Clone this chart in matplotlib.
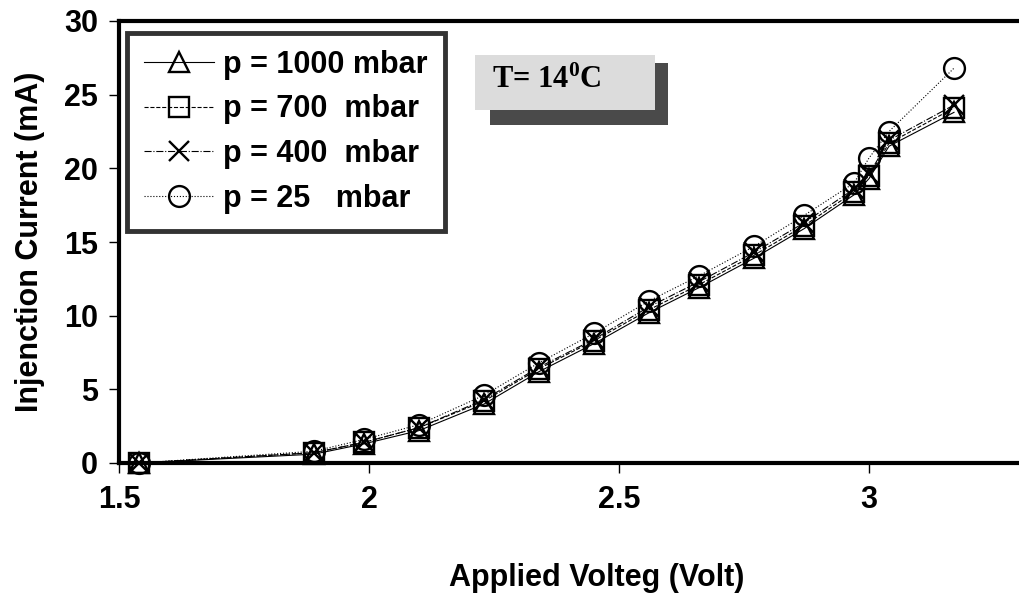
import matplotlib
matplotlib.use("Agg")
import matplotlib.pyplot as plt
from matplotlib.patches import Rectangle

voltage = [1.54, 1.89, 1.99, 2.10, 2.23, 2.34, 2.45, 2.56, 2.66, 2.77, 2.87, 2.97, 3.00, 3.04, 3.17]
i_1000 = [0.0, 0.6, 1.3, 2.2, 4.0, 6.2, 8.1, 10.2, 11.9, 13.9, 15.9, 18.2, 19.3, 21.5, 23.8]
i_700 = [0.0, 0.7, 1.4, 2.4, 4.2, 6.4, 8.3, 10.4, 12.1, 14.1, 16.1, 18.4, 19.5, 21.7, 24.1]
i_400 = [0.0, 0.7, 1.4, 2.4, 4.3, 6.5, 8.4, 10.6, 12.3, 14.3, 16.3, 18.6, 19.6, 21.9, 24.3]
i_25 = [0.0, 0.8, 1.6, 2.6, 4.6, 6.8, 8.8, 11.0, 12.7, 14.7, 16.8, 19.0, 20.7, 22.5, 26.8]

labels = ["p = 1000 mbar", "p = 700  mbar", "p = 400  mbar", "p = 25   mbar"]
xticks = [1.5, 2, 2.5, 3]
xticklabels = ["1.5", "2", "2.5", "3"]
yticks = [0, 5, 10, 15, 20, 25, 30]

plt.rcParams['font.family'] = ['Liberation Sans', 'DejaVu Sans']
plt.rcParams['font.weight'] = 'bold'
plt.rcParams['mathtext.fontset'] = 'custom'
plt.rcParams['mathtext.rm'] = 'Liberation Serif:bold'
plt.rcParams['mathtext.bf'] = 'Liberation Serif:bold'
plt.rcParams['mathtext.it'] = 'Liberation Serif:bold'

W, H = 1019, 597
fig = plt.figure(figsize=(W / 100, H / 100), dpi=100)
fig.patch.set_facecolor('white')

def fx(px):
    return px / W

def fy(py):
    return 1 - py / H

ax = fig.add_axes([fx(119), fy(463), fx(1030) - fx(119), fy(21) - fy(463)])
ax.set_xlim(1.5, 1.5 + 911 / 500)
ax.set_ylim(0, 30)

series = [i_1000, i_700, i_400, i_25]
markers = ['^', 's', 'x', 'o']
styles = ['-', '--', '-.', ':']
for ys, m, ls, lab in zip(series, markers, styles, labels):
    ax.plot(voltage, ys, linestyle=ls, color='black', linewidth=0.8,
            marker=m, markersize=15, markerfacecolor='none',
            markeredgecolor='black', markeredgewidth=1.7, label=lab,
            clip_on=False, zorder=3)

ax.set_xticks(xticks)
ax.set_xticklabels(xticklabels)
ax.set_yticks(yticks)
for s in ['left', 'bottom', 'top']:
    ax.spines[s].set_linewidth(3)
ax.spines['right'].set_visible(False)
ax.tick_params(axis='x', direction='out', length=7, width=1, pad=9, labelsize=22)
ax.tick_params(axis='y', direction='out', length=7, width=1, pad=8, labelsize=22)
for t in ax.get_xticklabels() + ax.get_yticklabels():
    t.set_fontweight('bold')

fig.text(fx(597), fy(578), "Applied Volteg (Volt)", fontsize=22, fontweight='bold',
         ha='center', va='center')
fig.text(fx(30), fy(242), "Injenction Current (mA)", rotation=90, fontsize=22,
         fontweight='bold', ha='center', va='center')

leg = fig.legend(loc='upper left', bbox_to_anchor=(fx(127), fy(33)), frameon=True,
                 fancybox=False, edgecolor='black', fontsize=22, handlelength=2.3,
                 handletextpad=0.3, borderpad=0.55, labelspacing=0.48,
                 borderaxespad=0)
leg.get_frame().set_linewidth(3.5)
for t in leg.get_texts():
    t.set_fontweight('bold')

# Temperature box with shadow
fig.add_artist(Rectangle((fx(490), fy(125)), fx(668) - fx(490), fy(63) - fy(125),
                         transform=fig.transFigure, facecolor='#4a4a4a',
                         edgecolor='none', zorder=5))
fig.add_artist(Rectangle((fx(475), fy(110)), fx(655) - fx(475), fy(55) - fy(110),
                         transform=fig.transFigure, facecolor='#dcdcdc',
                         edgecolor='none', zorder=6))
fig.text(fx(492), fy(88), "T= 14$^{0}$C", family='Liberation Serif', fontweight='bold',
         fontsize=22, ha='left', va='baseline', zorder=7)

fig.savefig("out.png", dpi=100)
